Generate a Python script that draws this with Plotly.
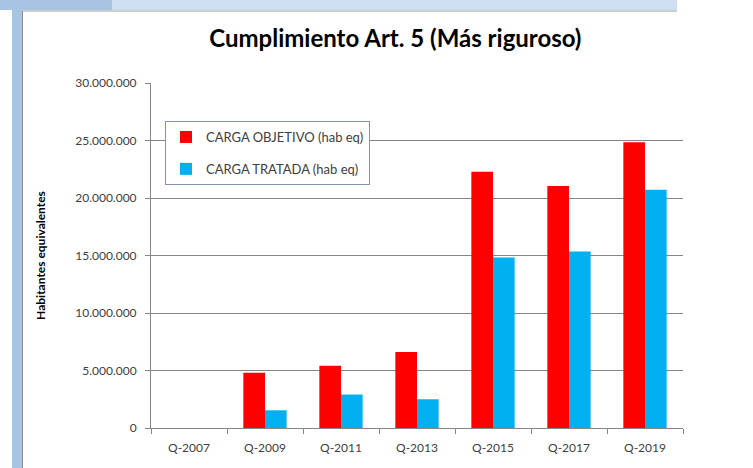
import plotly.graph_objects as go

# periodos y series (habitantes equivalentes)
periodos = ["Q-2007", "Q-2009", "Q-2011", "Q-2013", "Q-2015", "Q-2017", "Q-2019"]
carga_objetivo = [0, 4800000, 5410000, 6600000, 22280000, 21040000, 24850000]
carga_tratada = [0, 1540000, 2910000, 2500000, 14830000, 15350000, 20720000]

W, H = 753, 468
L, R, T, B = 151, 70, 83, 40
pw, ph = W - L - R, H - T - B


def px(x):
    return (x - L) / pw


def py(y):
    return (H - B - y) / ph


fig = go.Figure()
fig.add_trace(go.Bar(x=periodos, y=carga_objetivo, name="CARGA OBJETIVO (hab eq)",
                     marker=dict(color="#ff0000", line=dict(width=0)), legendgroup="a"))
fig.add_trace(go.Bar(x=periodos, y=carga_tratada, name="CARGA TRATADA (hab eq)",
                     marker=dict(color="#00b0f0", line=dict(width=0)), legendgroup="b"))

# marco decorativo (barras azules de la diapositiva)
deco = [
    dict(x0=0, x1=112, y0=0, y1=10, color="#a7c5e2"),
    dict(x0=112, x1=677, y0=0, y1=10, color="#cddff0"),
    dict(x0=12, x1=22, y0=10, y1=468, color="#a7c5e2"),
]
shapes = []
for d in deco:
    shapes.append(dict(type="rect", xref="paper", yref="paper",
                       x0=px(d["x0"]), x1=px(d["x1"]), y0=py(d["y1"]), y1=py(d["y0"]),
                       fillcolor=d["color"], line=dict(width=0), layer="above"))
shapes.append(dict(type="line", xref="paper", yref="paper", x0=px(22), x1=px(677),
                   y0=py(11), y1=py(11), line=dict(color="#9a9a9a", width=1)))
shapes.append(dict(type="line", xref="paper", yref="paper", x0=px(22.5), x1=px(22.5),
                   y0=py(11), y1=py(468), line=dict(color="#8a8a8a", width=1)))

fig.update_layout(
    width=W, height=H,
    margin=dict(l=L, r=R, t=T, b=B, autoexpand=False),
    paper_bgcolor="white", plot_bgcolor="white",
    separators=",.",
    font=dict(family="Lato, Open Sans, sans-serif", color="#404040", size=12),
    title=dict(text="<b>Cumplimiento Art. 5 (Más riguroso)</b>", x=0.525, xanchor="center",
               y=0.918, yanchor="middle", font=dict(size=24, color="#000000")),
    barmode="group", bargap=0.43, bargroupgap=0,
    showlegend=True,
    legend=dict(x=px(165), y=py(121), xanchor="left", yanchor="top",
                bgcolor="white", bordercolor="#7f92b0", borderwidth=1,
                font=dict(size=13, color="#404040"), tracegroupgap=12,
                traceorder="grouped"),
    shapes=shapes,
)
fig.update_xaxes(type="category", showline=True, linecolor="#868686", linewidth=1,
                 ticks="outside", tickson="boundaries", ticklen=5, tickcolor="#868686",
                 ticklabelstandoff=9,
                 tickfont=dict(size=12, color="#404040"), showgrid=False)
fig.update_yaxes(range=[0, 30000000], dtick=5000000, tickformat=",d",
                 showline=True, linecolor="#868686", linewidth=1,
                 ticks="outside", ticklen=5, tickcolor="#868686", ticklabelstandoff=6,
                 showgrid=True, gridcolor="#868686", gridwidth=1,
                 tickfont=dict(size=12, color="#404040"),
                 title=dict(text="<b>Habitantes equivalentes</b>", font=dict(size=12, color="#000000"),
                            standoff=27))

fig.write_html("out.html", config={"displayModeBar": False},
               post_script="document.body.style.margin='0';")
